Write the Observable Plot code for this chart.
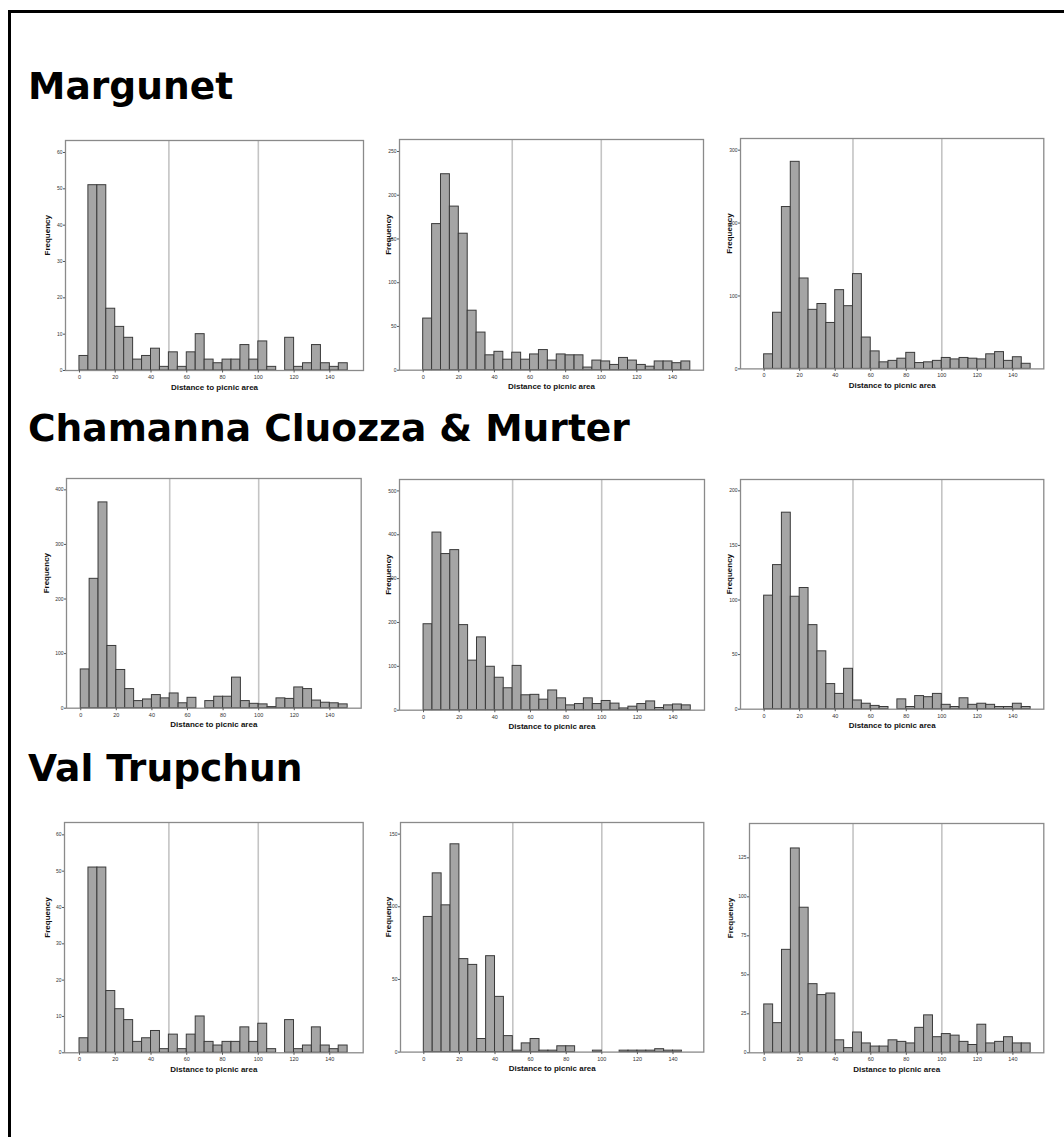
<!DOCTYPE html>
<html>
<head>
<meta charset="utf-8">
<script src="https://cdn.jsdelivr.net/npm/d3@7"></script>
<script src="https://cdn.jsdelivr.net/npm/@observablehq/plot@0.6"></script>
<style>
  html, body { margin: 0; padding: 0; background: #fff; overflow: hidden; }
  #page { position: relative; width: 1064px; height: 1137px; overflow: hidden; }
  #border { position: absolute; left: 8px; top: 10px; width: 1200px; height: 1300px; border: 3px solid #000; box-sizing: border-box; }
  .title { position: absolute; left: 28px; font-family: "DejaVu Sans", Verdana, sans-serif; font-weight: bold; font-size: 37.6px; line-height: 37.6px; color: #000; white-space: nowrap; }
  .panel { position: absolute; }
</style>
</head>
<body>
<div id="page">
  <div id="border"></div>
</div>
<script>
// ---- Data ----
const sections = ["Margunet", "Chamanna Cluozza & Murter", "Val Trupchun"];
const binStarts = [0,5,10,15,20,25,30,35,40,45,50,55,60,65,70,75,80,85,90,95,100,105,110,115,120,125,130,135,140,145];
const binWidth = 5;
const xTicks = [0,20,40,60,80,100,120,140];
const refLines = [50, 100];
const xLabel = "Distance to picnic area";
const yLabel = "Frequency";

const margunet1 = [4,51,51,17,12,9,3,4,6,1,5,1,5,10,3,2,3,3,7,3,8,1,0,9,1,2,7,2,1,2];
const margunet2 = [59,167,224,187,156,68,43,17,21,12,20,12,18,23,11,18,17,17,3,11,10,6,14,11,6,4,10,10,8,10];
const margunet3 = [20,77,222,284,124,81,89,63,108,86,130,43,24,9,11,14,22,8,9,11,15,13,15,14,13,20,23,11,16,7];
const chamanna1 = [71,237,377,114,70,35,13,16,24,18,27,9,19,0,13,21,21,56,13,8,7,2,18,17,38,35,14,10,9,7];
const chamanna2 = [196,405,356,365,194,113,166,99,74,50,101,34,35,24,45,27,11,14,27,14,21,15,4,8,14,20,5,11,13,11];
const chamanna3 = [104,132,180,103,111,77,53,23,14,37,8,5,3,2,0,9,2,12,11,14,4,2,10,4,5,4,2,2,5,2];
const trupchun1 = [4,51,51,17,12,9,3,4,6,1,5,1,5,10,3,2,3,3,7,3,8,1,0,9,1,2,7,2,1,2];
const trupchun2 = [93,123,101,143,64,60,9,66,38,11,1,6,9,1,1,4,4,0,0,1,0,0,1,1,1,1,2,1,1,0];
const trupchun3 = [31,19,66,131,93,44,37,38,8,3,13,6,4,4,8,7,6,16,24,10,12,11,7,5,18,6,7,10,6,6];

const yTicks60 = [0,10,20,30,40,50,60];
const yTicks250 = [0,50,100,150,200,250];
const yTicks300 = [0,100,200,300];
const yTicks400 = [0,100,200,300,400];
const yTicks500 = [0,100,200,300,400,500];
const yTicks200 = [0,50,100,150,200];
const yTicks150 = [0,50,100,150];
const yTicks125 = [0,25,50,75,100,125];

// ---- Layout (frame rectangles in page pixels, axis extents) ----
const titleBaselines = [100, 442, 782];
const panels = [
  {counts: margunet1, yTicks: yTicks60,  L: 65,  R: 363,  T: 140,   B: 370,  xd: [-7.8, 158.8], ymax: 63.3, freqX: 46.5},
  {counts: margunet2, yTicks: yTicks250, L: 399, R: 703,  T: 139.3, B: 370,  xd: [-13.3, 157.4], ymax: 263.7, freqX: 388},
  {counts: margunet3, yTicks: yTicks300, L: 740, R: 1043.3, T: 138.3, B: 368.7, xd: [-13.3, 157.4], ymax: 316, freqX: 729},
  {counts: chamanna1, yTicks: yTicks400, L: 66,  R: 360.7, T: 478.3, B: 708, xd: [-8, 157.6], ymax: 420.8, freqX: 46},
  {counts: chamanna2, yTicks: yTicks500, L: 399, R: 704,  T: 479.3, B: 710,  xd: [-13.5, 157.7], ymax: 526, freqX: 388},
  {counts: chamanna3, yTicks: yTicks200, L: 740, R: 1043.3, T: 479.3, B: 709, xd: [-13.3, 157.4], ymax: 210.4, freqX: 729},
  {counts: trupchun1, yTicks: yTicks60,  L: 64,  R: 362.7, T: 821.7, B: 1052, xd: [-8.4, 158.7], ymax: 63.4, freqX: 46.5},
  {counts: trupchun2, yTicks: yTicks150, L: 400, R: 703.3, T: 821.7, B: 1051.3, xd: [-13.1, 157.3], ymax: 158, freqX: 388},
  {counts: trupchun3, yTicks: yTicks125, L: 749, R: 1043.3, T: 822.7, B: 1052, xd: [-8.3, 157.4], ymax: 147, freqX: 730}
];

const page = document.getElementById("page");

sections.forEach((s, i) => {
  const d = document.createElement("div");
  d.className = "title";
  d.textContent = s;
  d.style.top = (titleBaselines[i] - 31.8) + "px";
  page.appendChild(d);
});

const ML = 40, MR = 4, MT = 4, MB = 30;

panels.forEach(p => {
  const rows = binStarts.map((b, i) => ({x1: b, x2: b + binWidth, count: p.counts[i]}));
  const chart = Plot.plot({
    width: (p.R - p.L) + ML + MR,
    height: (p.B - p.T) + MT + MB,
    marginLeft: ML, marginRight: MR, marginTop: MT, marginBottom: MB,
    x: {domain: p.xd},
    y: {domain: [0, p.ymax]},
    style: {fontFamily: "'Liberation Sans', Arial, sans-serif", fontSize: "5px", color: "#333", background: "transparent", overflow: "visible"},
    marks: [
      Plot.ruleX(refLines, {stroke: "#c4c4c4", strokeWidth: 1.6}),
      Plot.rect(rows, {x1: "x1", x2: "x2", y1: 0, y2: "count", fill: "#a5a5a5", stroke: "#3a3a3a", strokeWidth: 1, inset: 0}),
      Plot.frame({stroke: "#8a8a8a", strokeWidth: 1.3}),
      Plot.axisX({ticks: xTicks, tickSize: 2.5, tickPadding: 2, label: null, stroke: "#555", fontSize: 5.5}),
      Plot.axisY({ticks: p.yTicks, tickSize: 2, tickPadding: 1, label: null, stroke: "#555", fontSize: 5}),
      Plot.text([yLabel], {frameAnchor: "left", dx: -(p.L - p.freqX), rotate: -90, fontWeight: "bold", fontSize: 8, fill: "#111"}),
      Plot.text([xLabel], {frameAnchor: "bottom", dy: 19, fontWeight: "bold", fontSize: 8, fill: "#111"})
    ]
  });
  chart.classList.add("panel");
  chart.style.left = (p.L - ML) + "px";
  chart.style.top = (p.T - MT) + "px";
  page.appendChild(chart);
});
</script>
</body>
</html>
